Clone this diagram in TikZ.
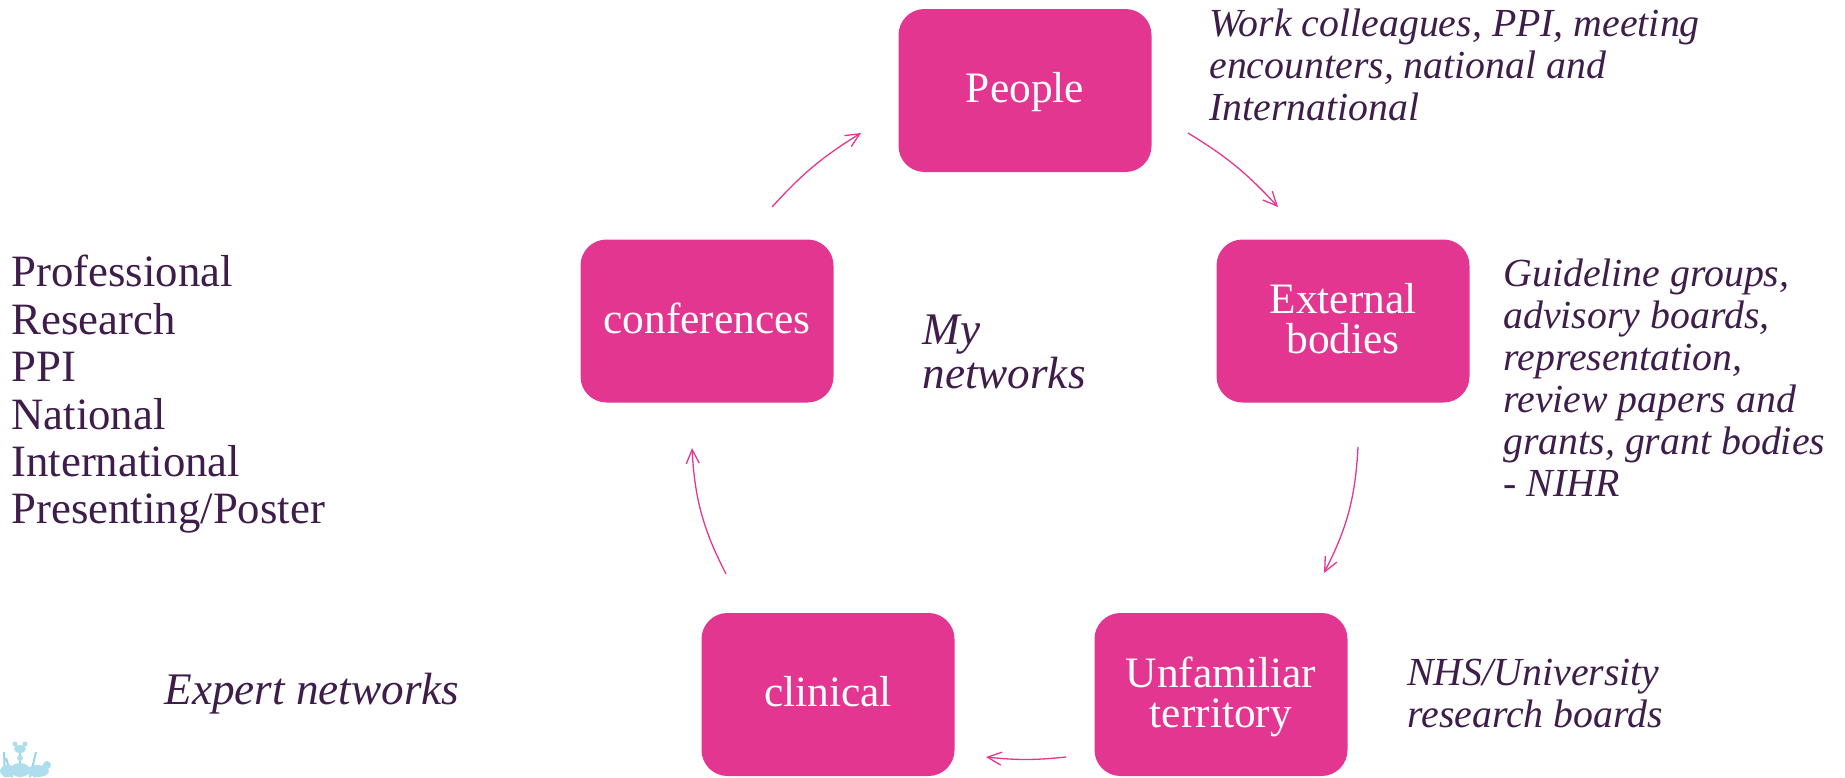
\documentclass[tikz,border=0pt]{standalone}
\usepackage{fontspec}
\setmainfont{Liberation Serif}
\usepackage{tikz}
\usetikzlibrary{arrows.meta}
\definecolor{boxpink}{HTML}{E23691}
\definecolor{notepurple}{HTML}{3F1D4B}
\definecolor{crestblue}{HTML}{6CC3E0}
\tikzset{
    netbox/.style={draw=none, fill=boxpink, rounded corners=13pt, minimum width=126.5pt, minimum height=81.5pt,
        inner sep=0pt, align=center, text=white, text height=14pt, text depth=1.6pt, font=\fontsize{21.7}{20}\selectfont},
    netboxtwo/.style={netbox, text height=34.4pt},
    netarrow/.style={draw=boxpink, line width=0.65pt, -{Straight Barb[length=7pt,width=10pt,angle'=50]}},
    noteitalic/.style={anchor=west, align=left, text=notepurple, inner sep=0pt, font=\fontsize{19.9}{21}\selectfont\itshape},
    notelarge/.style={anchor=west, align=left, text=notepurple, inner sep=0pt, font=\fontsize{22.6}{22.4}\selectfont\itshape},
    noteplain/.style={anchor=west, align=left, text=notepurple, inner sep=0pt, font=\fontsize{22.4}{23.7}\selectfont},
}
\begin{document}
\begin{tikzpicture}[x=0.5pt, y=-0.5pt]
    \useasboundingbox (0,0) rectangle (1845,777);

    % Boxes of the cycle
    \node[netbox] (people) at (1025,90.5) {People};
    \node[netboxtwo] (external) at (1343,321) {External\\bodies};
    \node[netboxtwo] (unfamiliar) at (1221,694.5) {Unfamiliar\\territory};
    \node[netbox] (clinical) at (828,694.5) {clinical};
    \node[netbox] (conferences) at (707,321) {conferences};

    % Free ends of the arrows
    \coordinate (peopleout) at (1188,133);
    \coordinate (externalin) at (1278,207);
    \coordinate (externalout) at (1358,447);
    \coordinate (unfamiliarin) at (1324,573);
    \coordinate (unfamiliarout) at (1066,757);
    \coordinate (clinicalin) at (986,757);
    \coordinate (clinicalout) at (726,574);
    \coordinate (conferencesin) at (692,448);
    \coordinate (conferencesout) at (772,207);
    \coordinate (peoplein) at (861,133);

    % Arrows between the boxes
    \draw[netarrow] (peopleout) to[bend left=8] (externalin);
    \draw[netarrow] (externalout) to[bend left=12] (unfamiliarin);
    \draw[netarrow] (unfamiliarout) to[bend left=6] (clinicalin);
    \draw[netarrow] (clinicalout) to[bend left=12] (conferencesin);
    \draw[netarrow] (conferencesout) to[bend left=8] (peoplein);

    % Notes beside the boxes
    \node[noteitalic] (peoplenote) at (1209,65) {Work colleagues, PPI, meeting\\encounters, national and\\International};
    \node[noteitalic] (externalnote) at (1503,378) {Guideline groups,\\advisory boards,\\representation,\\review papers and\\grants, grant bodies\\- NIHR};
    \node[noteitalic] (unfamiliarnote) at (1407,694) {NHS/University\\research boards};
    \node[notelarge] (centrenote) at (922,352) {My\\networks};
    \node[notelarge] (expertnote) at (164,694) {Expert networks};
    \node[noteplain] (conferencesnote) at (11,394.5) {Professional\\Research\\PPI\\National\\International\\Presenting/Poster};

    % Corner of the crest, cut by the page edge
    \begin{scope}
        \clip (0,0) rectangle (1845,777);
        \draw[crestblue!70, line width=1pt] (5,777) -- (4,752) (12,777) -- (6,758) (30,777) -- (36,752) (20,777) -- (20,750) (34,777) -- (50,766);
        \fill[crestblue!55] (20,770) ellipse (10 and 7) (8,771) ellipse (8 and 6) (38,771) ellipse (11 and 6) (47,765) circle (4) (20,749) ellipse (6 and 4) (15,744) circle (2.5) (25,744) circle (2.5) (20,758) circle (3);
    \end{scope}
\end{tikzpicture}
\end{document}
